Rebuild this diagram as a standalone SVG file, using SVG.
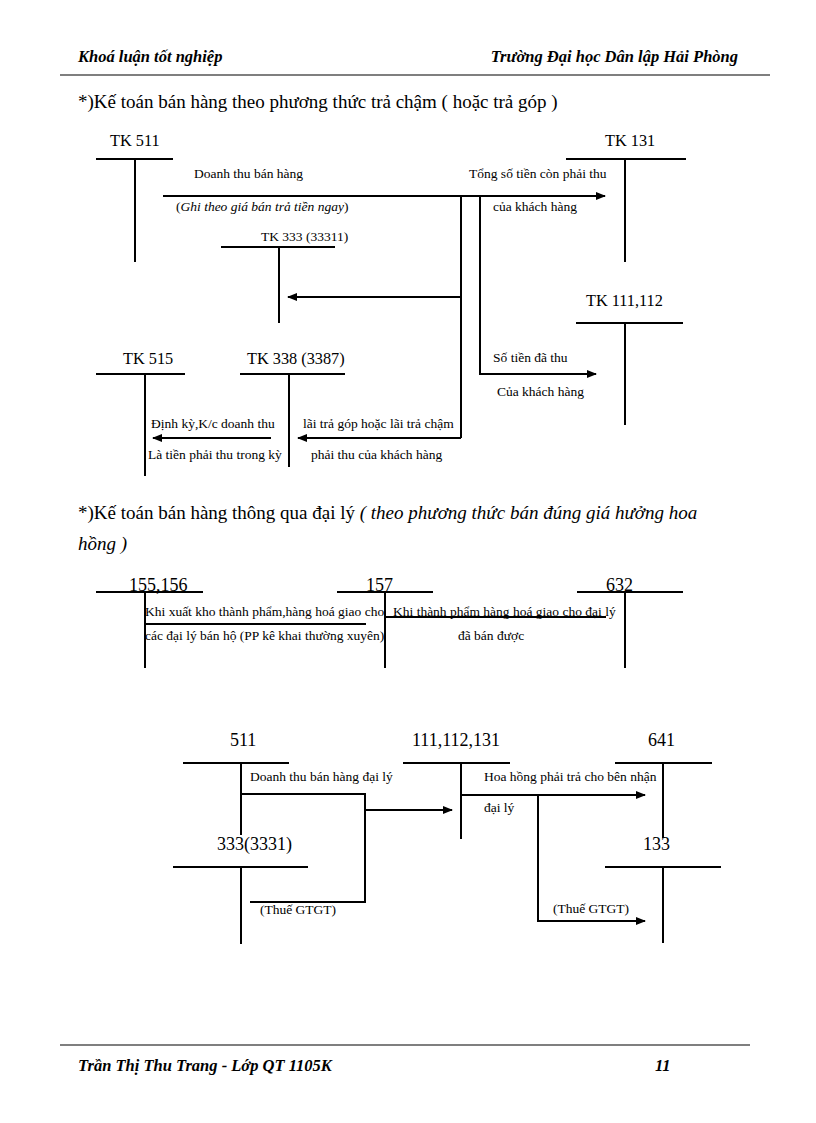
<svg xmlns="http://www.w3.org/2000/svg" width="816" height="1123" viewBox="0 0 816 1123">
<style>
text{font-family:"Liberation Serif","Times New Roman",serif;fill:#000}
.hd{font-size:16.5px;font-weight:bold;font-style:italic}
.ti{font-size:19px}
.tk{font-size:16.3px}
.nm{font-size:18px}
.lb{font-size:13.5px}
.acc{stroke:#000;stroke-width:2;fill:none}
.cn{stroke:#000;stroke-width:2;fill:none}
.rule{stroke:#000;stroke-width:1.2}
</style>
<defs>
<marker id="ah" viewBox="0 0 10 8" refX="9" refY="4" markerWidth="11" markerHeight="8" markerUnits="userSpaceOnUse" orient="auto"><path d="M0,0 L10,4 L0,8 z" fill="#000"/></marker>
</defs>
<rect width="816" height="1123" fill="#fff"/>
<g id="header">
<text class="hd" x="78" y="62">Khoá luận tốt nghiệp</text>
<text class="hd" x="738" y="62" text-anchor="end">Trường Đại học Dân lập Hải Phòng</text>
<line class="rule" x1="60" y1="75" x2="770" y2="75"/>
</g>
<text class="ti" x="78" y="108">*)Kế toán bán hàng theo phương thức trả chậm ( hoặc trả góp )</text>

<!-- Diagram 1 -->
<g id="tk511">
<text class="tk" x="110" y="146">TK 511</text>
<path class="acc" d="M96,159 H173 M135,159 V262"/>
</g>
<g id="tk131">
<text class="tk" x="605" y="146">TK 131</text>
<path class="acc" d="M566,159 H686 M625,159 V262"/>
</g>
<g id="tk333">
<text class="lb" x="261" y="241">TK 333 (33311)</text>
<path class="acc" d="M221,247 H335 M279,247 V323"/>
</g>
<g id="tk111">
<text class="tk" x="586" y="306">TK 111,112</text>
<path class="acc" d="M576,323 H683 M625,323 V425"/>
</g>
<g id="tk515">
<text class="tk" x="123" y="364">TK 515</text>
<path class="acc" d="M96,374 H185 M145,374 V476"/>
</g>
<g id="tk338">
<text class="tk" x="247" y="364">TK 338 (3387)</text>
<path class="acc" d="M240,374 H345 M289,374 V467"/>
</g>
<g id="connectors1">
<path class="cn" d="M163,196 H605" marker-end="url(#ah)"/>
<path class="cn" d="M461,196 V438"/>
<path class="cn" d="M461,297 H288" marker-end="url(#ah)"/>
<path class="cn" d="M461,438 H298" marker-end="url(#ah)"/>
<path class="cn" d="M271,438 H153" marker-end="url(#ah)"/>
<path class="cn" d="M480,196 V374 H596" marker-end="url(#ah)"/>
</g>
<g id="labels1">
<text class="lb" x="194" y="178">Doanh thu bán hàng</text>
<text class="lb" x="176" y="211">(<tspan font-style="italic">Ghi theo giá bán trả tiền ngay</tspan>)</text>
<text class="lb" x="469" y="178">Tổng số tiền còn phải thu</text>
<text class="lb" x="493" y="211">của khách hàng</text>
<text class="lb" x="493" y="362">Số tiền đã thu</text>
<text class="lb" x="497" y="396">Của khách hàng</text>
<text class="lb" x="303" y="428">lãi trả góp hoặc lãi trả chậm</text>
<text class="lb" x="311" y="459">phải thu của khách hàng</text>
<text class="lb" x="151" y="428">Định kỳ,K/c doanh thu</text>
<text class="lb" x="148" y="459">Là tiền phải thu trong kỳ</text>
</g>

<text class="ti" x="78" y="519" font-size="19.5">*)Kế toán bán hàng thông qua đại lý <tspan font-style="italic">( theo phương thức bán đúng giá hưởng hoa</tspan></text>
<text class="ti" x="78" y="550" font-size="19.5" font-style="italic">hồng )</text>

<!-- Diagram 2 -->
<g id="acc155">
<text class="nm" x="129" y="591">155,156</text>
<path class="acc" d="M96,592 H203 M145,592 V668"/>
</g>
<g id="acc157">
<text class="nm" x="366" y="591">157</text>
<path class="acc" d="M337,592 H433 M385,592 V668"/>
</g>
<g id="acc632">
<text class="nm" x="606" y="591">632</text>
<path class="acc" d="M577,592 H683 M625,592 V668"/>
</g>
<g id="connectors2">
<path class="cn" d="M145,624 H366"/>
<path class="cn" d="M385,617 H606"/>
</g>
<g id="labels2">
<text class="lb" x="145" y="616">Khi xuất kho thành phẩm,hàng hoá giao cho</text>
<text class="lb" x="145" y="640">các đại lý bán hộ (PP kê khai thường xuyên)</text>
<text class="lb" x="393" y="616">Khi thành phẩm hàng hoá giao cho đại lý</text>
<text class="lb" x="458" y="640">đã bán được</text>
</g>

<!-- Diagram 3 -->
<g id="acc511">
<text class="nm" x="230" y="746">511</text>
<path class="acc" d="M183,763 H289 M241,763 V835"/>
</g>
<g id="acc3331">
<text class="nm" x="217" y="850">333(3331)</text>
<path class="acc" d="M173,867 H308 M241,867 V944"/>
</g>
<g id="acc111">
<text class="nm" x="412" y="746">111,112,131</text>
<path class="acc" d="M403,763 H510 M461,763 V839"/>
</g>
<g id="acc641">
<text class="nm" x="648" y="746">641</text>
<path class="acc" d="M615,763 H712 M663,763 V838"/>
</g>
<g id="acc133">
<text class="nm" x="643" y="850">133</text>
<path class="acc" d="M605,867 H721 M663,867 V943"/>
</g>
<g id="connectors3">
<path class="cn" d="M241,794 H365 V902 H250"/>
<path class="cn" d="M365,810 H452" marker-end="url(#ah)"/>
<path class="cn" d="M461,795 H645" marker-end="url(#ah)"/>
<path class="cn" d="M538,795 V921 H645" marker-end="url(#ah)"/>
</g>
<g id="labels3">
<text class="lb" x="250" y="781">Doanh thu bán hàng đại lý</text>
<text class="lb" x="260" y="914">(Thuế GTGT)</text>
<text class="lb" x="484" y="781">Hoa hồng phải trả cho bên nhận</text>
<text class="lb" x="484" y="812">đại lý</text>
<text class="lb" x="553" y="913">(Thuế GTGT)</text>
</g>

<g id="footer">
<line class="rule" x1="60" y1="1045" x2="750" y2="1045"/>
<text class="hd" x="78" y="1071">Trần Thị Thu Trang - Lớp QT 1105K</text>
<text class="hd" x="655" y="1071">11</text>
</g>
</svg>
